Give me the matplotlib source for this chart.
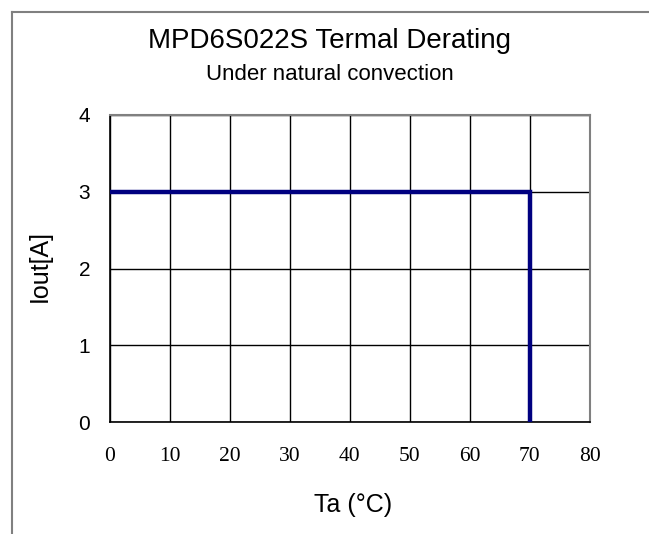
import matplotlib
matplotlib.use("Agg")
import matplotlib.pyplot as plt
from matplotlib.lines import Line2D

ta = [0, 70, 70]
iout = [3, 3, 0]
xticks = [0, 10, 20, 30, 40, 50, 60, 70, 80]
yticks = [0, 1, 2, 3, 4]

W, H = 649, 534
fig = plt.figure(figsize=(W / 100, H / 100), dpi=100)
fig.patch.set_facecolor("white")

# outer border (top and left visible)
fig.add_artist(Line2D([12 / W, 12 / W], [1 - 12 / H, 0], transform=fig.transFigure,
                      color="#808080", lw=1.5))
fig.add_artist(Line2D([12 / W, 1], [1 - 12 / H, 1 - 12 / H], transform=fig.transFigure,
                      color="#808080", lw=1.5))

l, r, t, b = 109.5, 590, 115, 422
ax = fig.add_axes([l / W, 1 - b / H, (r - l) / W, (b - t) / H])
ax.set_xlim(0, 80)
ax.set_ylim(0, 4)
ax.set_xticks(xticks)
ax.set_yticks(yticks)
ax.grid(True, color="black", lw=1.0)
ax.set_axisbelow(True)

ax.plot(ta, iout, color="#000080", lw=3.2, solid_joinstyle="miter", zorder=3)

for s in ["top", "right"]:
    ax.spines[s].set_color("#808080")
    ax.spines[s].set_linewidth(1.5)
for s in ["left", "bottom"]:
    ax.spines[s].set_color("black")
    ax.spines[s].set_linewidth(1.2)

ax.tick_params(length=0)
ax.tick_params(axis="x", pad=18)
ax.tick_params(axis="y", pad=14)
for lab in ax.get_xticklabels():
    lab.set_fontfamily("Liberation Serif")
    lab.set_fontsize(15.5)
for lab in ax.get_yticklabels():
    lab.set_fontfamily("Liberation Sans")
    lab.set_fontsize(15)

fig.text(330 / W, 1 - 41 / H, "MPD6S022S Termal Derating", ha="center", va="center",
         fontfamily="Liberation Sans", fontsize=20)
fig.text(330 / W, 1 - 74 / H, "Under natural convection", ha="center", va="center",
         fontfamily="Liberation Sans", fontsize=16)
fig.text(353 / W, 1 - 505 / H, "Ta (°C)", ha="center", va="center",
         fontfamily="Liberation Sans", fontsize=18)
fig.text(40 / W, 1 - 266 / H, "Iout[A]", ha="center", va="center", rotation=90,
         fontfamily="Liberation Sans", fontsize=18)

fig.savefig("out.png", dpi=100)
